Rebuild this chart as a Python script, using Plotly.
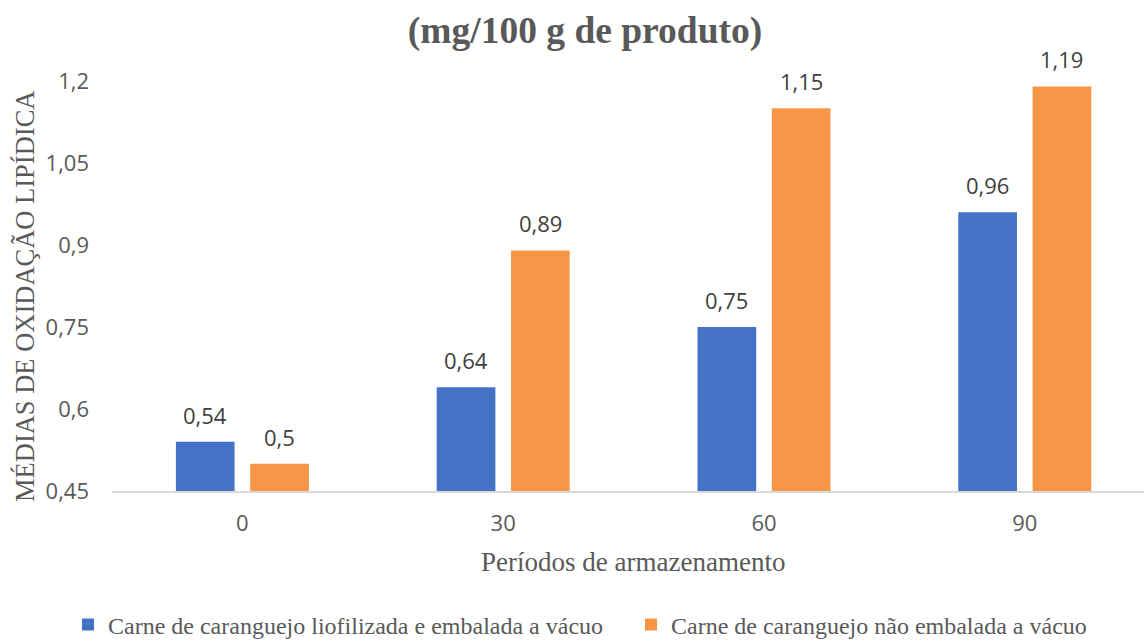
import plotly.graph_objects as go

categories = ["0", "30", "60", "90"]
series_names = ["Carne de caranguejo liofilizada e embalada a vácuo",
                "Carne de caranguejo não embalada a vácuo"]
liofilizada = [0.54, 0.64, 0.75, 0.96]
nao_embalada = [0.50, 0.89, 1.15, 1.19]
y_ticks = [0.45, 0.6, 0.75, 0.9, 1.05, 1.2]

colors = ["#4472C4", "#F79646"]
xpos = list(range(len(categories)))

W, H = 1144, 641
ml, mr, mt, mb = 112, 0, 81, 150

fig = go.Figure()
bar_w = 0.225
offsets = [-0.255, 0.03]
for name, vals, col, off in zip(series_names, [liofilizada, nao_embalada], colors, offsets):
    fig.add_trace(go.Bar(
        x=xpos, y=vals, name=name, marker=dict(color=col, line=dict(width=0)),
        width=bar_w, offset=off, hoverinfo="x+y",
    ))

annotations = []
sans = "Open Sans, Noto Sans, sans-serif"
serif = "Liberation Serif, Times New Roman, serif"
for vals, off in zip([liofilizada, nao_embalada], offsets):
    for xi, v in zip(xpos, vals):
        annotations.append(dict(
            x=xi + off + bar_w / 2, y=v, xref="x", yref="y",
            text=f"{v:g}".replace(".", ","), showarrow=False,
            yanchor="bottom", yshift=10,
            font=dict(family=sans, size=22, color="#404040"),
        ))

plot_w = W - ml - mr
plot_h = H - mt - mb
# y-axis title
annotations.append(dict(
    x=(25 - ml) / plot_w, y=(H - mb - 297) / plot_h, xref="paper", yref="paper",
    text="MÉDIAS DE OXIDAÇÃO LIPÍDICA", textangle=-90, showarrow=False,
    xanchor="center", yanchor="middle",
    font=dict(family=serif, size=26.5, color="#595959"),
))
# x-axis title
annotations.append(dict(
    x=(633 - ml) / plot_w, y=(H - mb - 562) / plot_h, xref="paper", yref="paper",
    text="Períodos de armazenamento", showarrow=False,
    xanchor="center", yanchor="middle",
    font=dict(family=serif, size=27, color="#595959"),
))

fig.update_layout(
    width=W, height=H,
    margin=dict(l=ml, r=mr, t=mt, b=mb, autoexpand=False),
    paper_bgcolor="white", plot_bgcolor="white",
    separators=",.",
    barmode="overlay",
    title=dict(
        text="<b>(mg/100 g de produto)</b>",
        xref="container", yref="container",
        x=585 / W, y=(H - 30) / H, xanchor="center", yanchor="middle",
        font=dict(family=serif, size=37.5, color="#595959"),
    ),
    xaxis=dict(
        range=[-0.5, -0.5 + plot_w / 260.8],
        tickmode="array", tickvals=xpos, ticktext=categories,
        showgrid=False, zeroline=False,
        showline=True, linecolor="#D9D9D9", linewidth=2,
        ticks="", ticklabelstandoff=12,
        tickfont=dict(family=sans, size=22, color="#595959"),
    ),
    yaxis=dict(
        range=[0.45, 1.2],
        tickmode="array", tickvals=y_ticks,
        ticktext=[f"{t:g}".replace(".", ",") for t in y_ticks],
        showgrid=False, zeroline=False, showline=False,
        ticks="", ticklabelstandoff=22,
        tickfont=dict(family=sans, size=22, color="#595959"),
    ),
    legend=dict(
        orientation="h", xref="paper", yref="paper",
        x=(68 - ml) / plot_w, xanchor="left",
        y=(H - mb - 625) / plot_h, yanchor="middle",
        font=dict(family=serif, size=24, color="#595959"),
        itemclick=False, itemdoubleclick=False,
        entrywidth=518, itemwidth=30,
    ),
    showlegend=True,
    annotations=annotations,
)

fig.write_html("out.html")
